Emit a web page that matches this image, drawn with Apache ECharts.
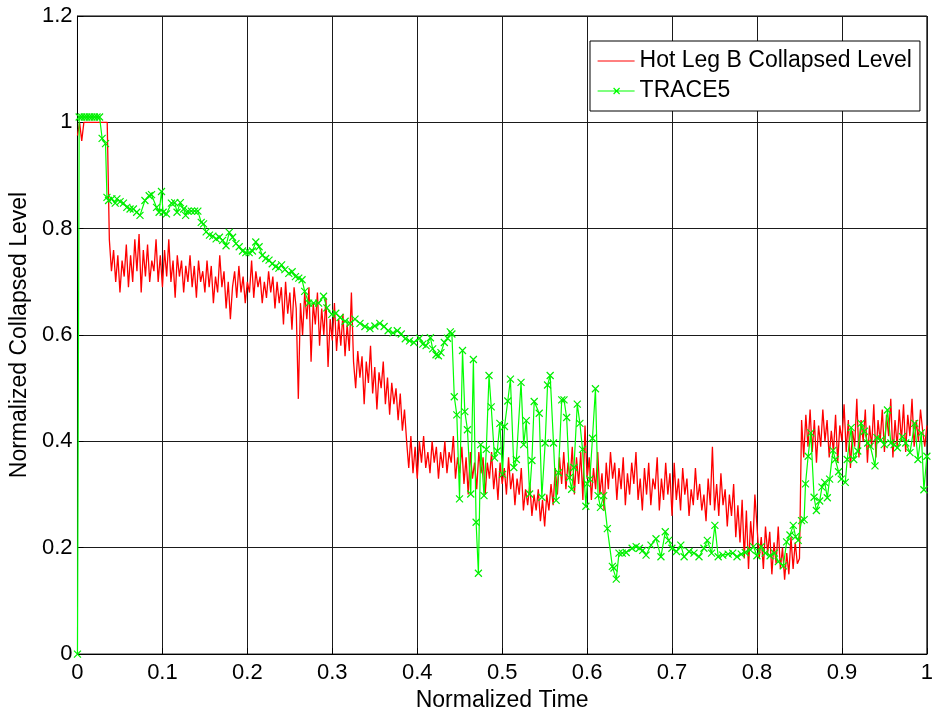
<!DOCTYPE html>
<html>
<head>
<meta charset="utf-8">
<script src="https://cdn.jsdelivr.net/npm/echarts@6/dist/echarts.min.js"></script>
<style>html,body{margin:0;padding:0;background:#fff;}#c{width:936px;height:717px;}</style>
</head>
<body>
<div id="c"></div>
<script>
// Red series: Hot Leg B Collapsed Level, sampled every redStep in normalized time starting at 0
const redStep = 0.0025;
const redV = [
0.975,1.0,0.965,1.0,1.0,1.0,1.0,1.0,1.0,1.0,
1.0,1.0,1.0,1.0,1.0,0.78,0.72,0.76,0.70,0.75,
0.68,0.74,0.71,0.77,0.69,0.75,0.70,0.78,0.72,0.79,
0.68,0.76,0.71,0.77,0.70,0.74,0.72,0.78,0.70,0.75,
0.69,0.76,0.71,0.78,0.70,0.74,0.67,0.75,0.71,0.74,
0.68,0.73,0.70,0.75,0.69,0.73,0.67,0.74,0.70,0.72,
0.68,0.74,0.69,0.73,0.66,0.71,0.68,0.75,0.69,0.72,
0.65,0.70,0.63,0.69,0.72,0.67,0.73,0.68,0.71,0.66,
0.70,0.68,0.74,0.67,0.72,0.69,0.71,0.66,0.70,0.67,
0.72,0.68,0.71,0.65,0.70,0.66,0.69,0.62,0.70,0.64,
0.68,0.61,0.69,0.65,0.48,0.66,0.60,0.68,0.63,0.69,
0.55,0.66,0.62,0.68,0.58,0.65,0.60,0.67,0.54,0.63,
0.59,0.66,0.57,0.63,0.58,0.64,0.56,0.62,0.57,0.68,
0.55,0.50,0.57,0.52,0.56,0.47,0.55,0.51,0.58,0.49,
0.54,0.46,0.53,0.50,0.55,0.47,0.52,0.45,0.51,0.47,
0.50,0.44,0.49,0.42,0.46,0.40,0.35,0.41,0.34,0.39,
0.33,0.40,0.36,0.41,0.35,0.38,0.34,0.40,0.36,0.39,
0.33,0.38,0.35,0.40,0.34,0.38,0.36,0.41,0.33,0.37,
0.34,0.39,0.32,0.37,0.30,0.38,0.33,0.36,0.31,0.38,
0.34,0.37,0.30,0.36,0.33,0.38,0.31,0.35,0.29,0.36,
0.32,0.35,0.30,0.37,0.31,0.34,0.28,0.33,0.30,0.35,
0.27,0.31,0.28,0.32,0.26,0.30,0.27,0.31,0.25,0.29,
0.24,0.30,0.27,0.32,0.28,0.35,0.30,0.37,0.32,0.38,
0.31,0.36,0.33,0.39,0.30,0.37,0.32,0.38,0.29,0.43,
0.33,0.37,0.29,0.35,0.31,0.38,0.30,0.34,0.27,0.36,
0.31,0.38,0.33,0.36,0.29,0.35,0.31,0.37,0.28,0.34,
0.30,0.36,0.32,0.38,0.29,0.33,0.27,0.35,0.30,0.36,
0.28,0.33,0.31,0.37,0.27,0.33,0.29,0.36,0.30,0.34,
0.26,0.36,0.29,0.33,0.27,0.35,0.30,0.33,0.26,0.31,
0.28,0.35,0.29,0.32,0.27,0.30,0.25,0.33,0.28,0.39,
0.27,0.32,0.26,0.34,0.28,0.31,0.24,0.30,0.26,0.32,
0.22,0.28,0.21,0.29,0.18,0.27,0.16,0.25,0.20,0.30,
0.24,0.18,0.22,0.16,0.24,0.19,0.23,0.15,0.21,0.17,
0.24,0.16,0.20,0.14,0.19,0.15,0.22,0.16,0.21,0.17,
0.18,0.44,0.37,0.45,0.39,0.46,0.38,0.44,0.36,0.43,
0.39,0.46,0.40,0.44,0.37,0.42,0.38,0.45,0.36,0.43,
0.40,0.47,0.38,0.44,0.35,0.42,0.39,0.48,0.37,0.44,
0.40,0.46,0.36,0.43,0.39,0.47,0.37,0.44,0.40,0.46,
0.38,0.45,0.41,0.48,0.37,0.44,0.39,0.46,0.40,0.47,
0.38,0.45,0.41,0.48,0.39,0.44,0.40,0.46,0.42,0.39,
0.43
];

// Green series: TRACE5 (time, value)
const greenT = [
0,0.002,0.005,0.008,0.011,0.014,0.017,0.020,0.023,0.026,0.029,0.033,
0.0347,0.0366,0.0405,0.0444,0.0464,0.0502,0.0541,0.0581,0.0619,0.0658,0.0697,0.0736,
0.0794,0.0844,0.0872,0.0931,0.0961,0.0989,0.1008,0.1048,0.1106,0.1145,0.1172,0.1211,
0.1250,0.1273,0.1300,0.1340,0.1379,0.1417,0.1457,0.1484,0.1515,0.1554,0.1593,0.1632,
0.1671,0.1709,0.1749,0.1787,0.1826,0.1866,0.1904,0.1943,0.1982,0.2021,0.2060,0.2099,
0.2138,0.2176,0.2216,0.2255,0.2293,0.2333,0.2371,0.2403,0.2442,0.2488,0.2527,0.2566,
0.2605,0.2644,0.2675,0.2722,0.2780,0.2839,0.2897,0.2936,0.2994,0.3041,0.3092,0.3151,
0.3209,0.3267,0.3326,0.3384,0.3443,0.3501,0.3559,0.3610,0.3657,0.3715,0.3765,0.3812,
0.3859,0.3910,0.3960,0.4027,0.4065,0.4104,0.4155,0.4182,0.4221,0.4249,0.4279,0.4319,
0.4357,0.4389,0.4408,0.4436,0.4466,0.4498,0.4533,0.4560,0.4591,0.4630,0.4661,0.4693,
0.4720,0.4747,0.4786,0.4813,0.4845,0.4871,0.4910,0.4942,0.4973,0.5004,0.5027,0.5066,
0.5097,0.5137,0.5167,0.5222,0.5253,0.5284,0.5323,0.5350,0.5377,0.5436,0.5467,0.5506,
0.5534,0.5565,0.5604,0.5635,0.5662,0.5701,0.5728,0.5759,0.5791,0.5818,0.5845,0.5884,
0.5915,0.5946,0.5985,0.6001,0.6032,0.6063,0.6098,0.6129,0.6157,0.6195,0.6238,0.6297,
0.6316,0.6343,0.6375,0.6414,0.6460,0.6530,0.6577,0.6616,0.6655,0.6694,0.6752,0.6811,
0.6869,0.6920,0.6959,0.6998,0.7052,0.7103,0.7142,0.7200,0.7258,0.7317,0.7375,0.7415,
0.7465,0.7504,0.7543,0.7597,0.7660,0.7714,0.7765,0.7815,0.7862,0.7921,0.7959,0.7999,
0.8049,0.8096,0.8154,0.8205,0.8251,0.8310,0.8349,0.8388,0.8427,0.8454,0.8485,0.8524,
0.8555,0.8571,0.8602,0.8633,0.8672,0.8699,0.8738,0.8765,0.8797,0.8828,0.8855,0.8894,
0.8922,0.8960,0.8992,0.9039,0.9062,0.9109,0.9139,0.9186,0.9225,0.9264,0.9303,0.9334,
0.9389,0.9412,0.9459,0.9498,0.9536,0.9576,0.9614,0.9653,0.9712,0.9751,0.9801,0.9856,
0.9895,0.9934,0.9965,1.0
];
const greenV = [
0,1.01,1.01,1.01,1.01,1.01,1.01,1.01,1.01,1.01,0.97,0.96,
0.859,0.853,0.856,0.848,0.856,0.851,0.848,0.840,0.837,0.837,0.831,0.825,
0.853,0.862,0.864,0.840,0.831,0.870,0.831,0.828,0.848,0.849,0.831,0.849,
0.837,0.825,0.833,0.833,0.833,0.833,0.812,0.809,0.794,0.788,0.786,0.781,
0.784,0.778,0.768,0.793,0.784,0.772,0.766,0.758,0.755,0.755,0.758,0.775,
0.766,0.750,0.744,0.741,0.734,0.729,0.726,0.732,0.723,0.716,0.719,0.710,
0.707,0.704,0.682,0.660,0.660,0.660,0.673,0.651,0.639,0.641,0.633,0.626,
0.622,0.630,0.622,0.616,0.612,0.617,0.622,0.616,0.608,0.604,0.608,0.602,
0.593,0.589,0.586,0.594,0.583,0.580,0.595,0.574,0.563,0.561,0.567,0.586,
0.594,0.606,0.602,0.484,0.450,0.292,0.571,0.456,0.422,0.301,0.554,0.248,
0.152,0.394,0.298,0.385,0.524,0.465,0.369,0.382,0.434,0.338,0.428,0.476,
0.517,0.351,0.366,0.511,0.394,0.439,0.301,0.364,0.475,0.453,0.295,0.397,
0.506,0.524,0.397,0.289,0.341,0.478,0.478,0.445,0.332,0.310,0.351,0.470,
0.434,0.385,0.278,0.320,0.329,0.406,0.499,0.298,0.276,0.298,0.236,0.165,
0.162,0.141,0.190,0.190,0.191,0.199,0.202,0.199,0.195,0.186,0.205,0.217,
0.183,0.230,0.214,0.199,0.193,0.205,0.183,0.193,0.190,0.183,0.199,0.214,
0.190,0.242,0.183,0.186,0.188,0.190,0.183,0.188,0.191,0.196,0.202,0.185,
0.202,0.190,0.185,0.190,0.174,0.166,0.211,0.224,0.242,0.221,0.214,0.251,
0.253,0.320,0.372,0.416,0.295,0.270,0.288,0.314,0.323,0.294,0.329,0.383,
0.366,0.343,0.329,0.323,0.366,0.426,0.366,0.382,0.434,0.419,0.397,0.391,
0.354,0.407,0.403,0.394,0.459,0.397,0.394,0.388,0.409,0.397,0.379,0.434,
0.366,0.416,0.309,0.372
];

const seriesNames = ['Hot Leg B Collapsed Level', 'TRACE5'];
const xTitle = 'Normalized Time';
const yTitle = 'Normalized Collapsed Level';

const redData = redV.map((v, i) => [+(i * redStep).toFixed(4), v]);
const greenData = greenT.map((t, i) => [t, greenV[i]]);

const FONT = '"Liberation Sans", Arial, Helvetica, sans-serif';
const chart = echarts.init(document.getElementById('c'), null, {renderer: 'canvas'});
chart.setOption({
  animation: false,
  backgroundColor: '#ffffff',
  textStyle: {fontFamily: FONT},
  grid: {left: 77, right: 3, top: 16, bottom: 55, show: true, borderColor: '#000', borderWidth: 1, backgroundColor: '#fff'},
  legend: {
    orient: 'vertical', left: 590, top: 41,
    padding: [8, 8, 8, 7],
    itemWidth: 37, itemHeight: 14, itemGap: 6,
    backgroundColor: '#fff', borderColor: '#000', borderWidth: 1, borderRadius: 0,
    textStyle: {fontSize: 23, lineHeight: 24, color: '#000', fontFamily: FONT},
    data: [
      {name: seriesNames[0], icon: 'path://M0,0M0,7L37,7M37,14',
       itemStyle: {color: 'rgba(0,0,0,0)', borderColor: '#ff0000', borderWidth: 1}},
      {name: seriesNames[1], icon: 'path://M0,0M0,7L37,7M16,4L22,10M22,4L16,10M37,14',
       itemStyle: {color: 'rgba(0,0,0,0)', borderColor: '#00ff00', borderWidth: 1.2}}
    ]
  },
  xAxis: {
    type: 'value', min: 0, max: 1, interval: 0.1,
    name: xTitle, nameLocation: 'middle', nameGap: 30,
    nameTextStyle: {fontSize: 23, color: '#000', fontFamily: FONT},
    axisLine: {lineStyle: {color: '#000', width: 1}},
    axisTick: {inside: true, length: 6, lineStyle: {color: '#000'}},
    axisLabel: {fontSize: 22, color: '#000', margin: 8, fontFamily: FONT},
    splitLine: {show: true, lineStyle: {color: '#1a1a1a', width: 1}}
  },
  yAxis: {
    type: 'value', min: 0, max: 1.2, interval: 0.2,
    name: yTitle, nameLocation: 'middle', nameGap: 37,
    nameTextStyle: {fontSize: 23, color: '#000', fontFamily: FONT},
    axisLine: {show: true, lineStyle: {color: '#000', width: 1}},
    axisTick: {show: true, inside: true, length: 6, lineStyle: {color: '#000'}},
    axisLabel: {fontSize: 22, color: '#000', margin: 5, fontFamily: FONT},
    splitLine: {show: true, lineStyle: {color: '#1a1a1a', width: 1}}
  },
  series: [
    {
      name: seriesNames[0], type: 'line', data: redData,
      symbol: 'none', color: '#ff0000',
      lineStyle: {color: '#ff0000', width: 1.3},
      z: 2
    },
    {
      name: seriesNames[1], type: 'line', data: greenData,
      symbol: 'path://M0,0L10,10M10,0L0,10', symbolSize: 7,
      color: '#00ff00',
      itemStyle: {color: 'rgba(0,0,0,0)', borderColor: '#00ee00', borderWidth: 1.2},
      lineStyle: {color: '#00ff00', width: 1.2},
      z: 3
    }
  ]
});
</script>
</body>
</html>
